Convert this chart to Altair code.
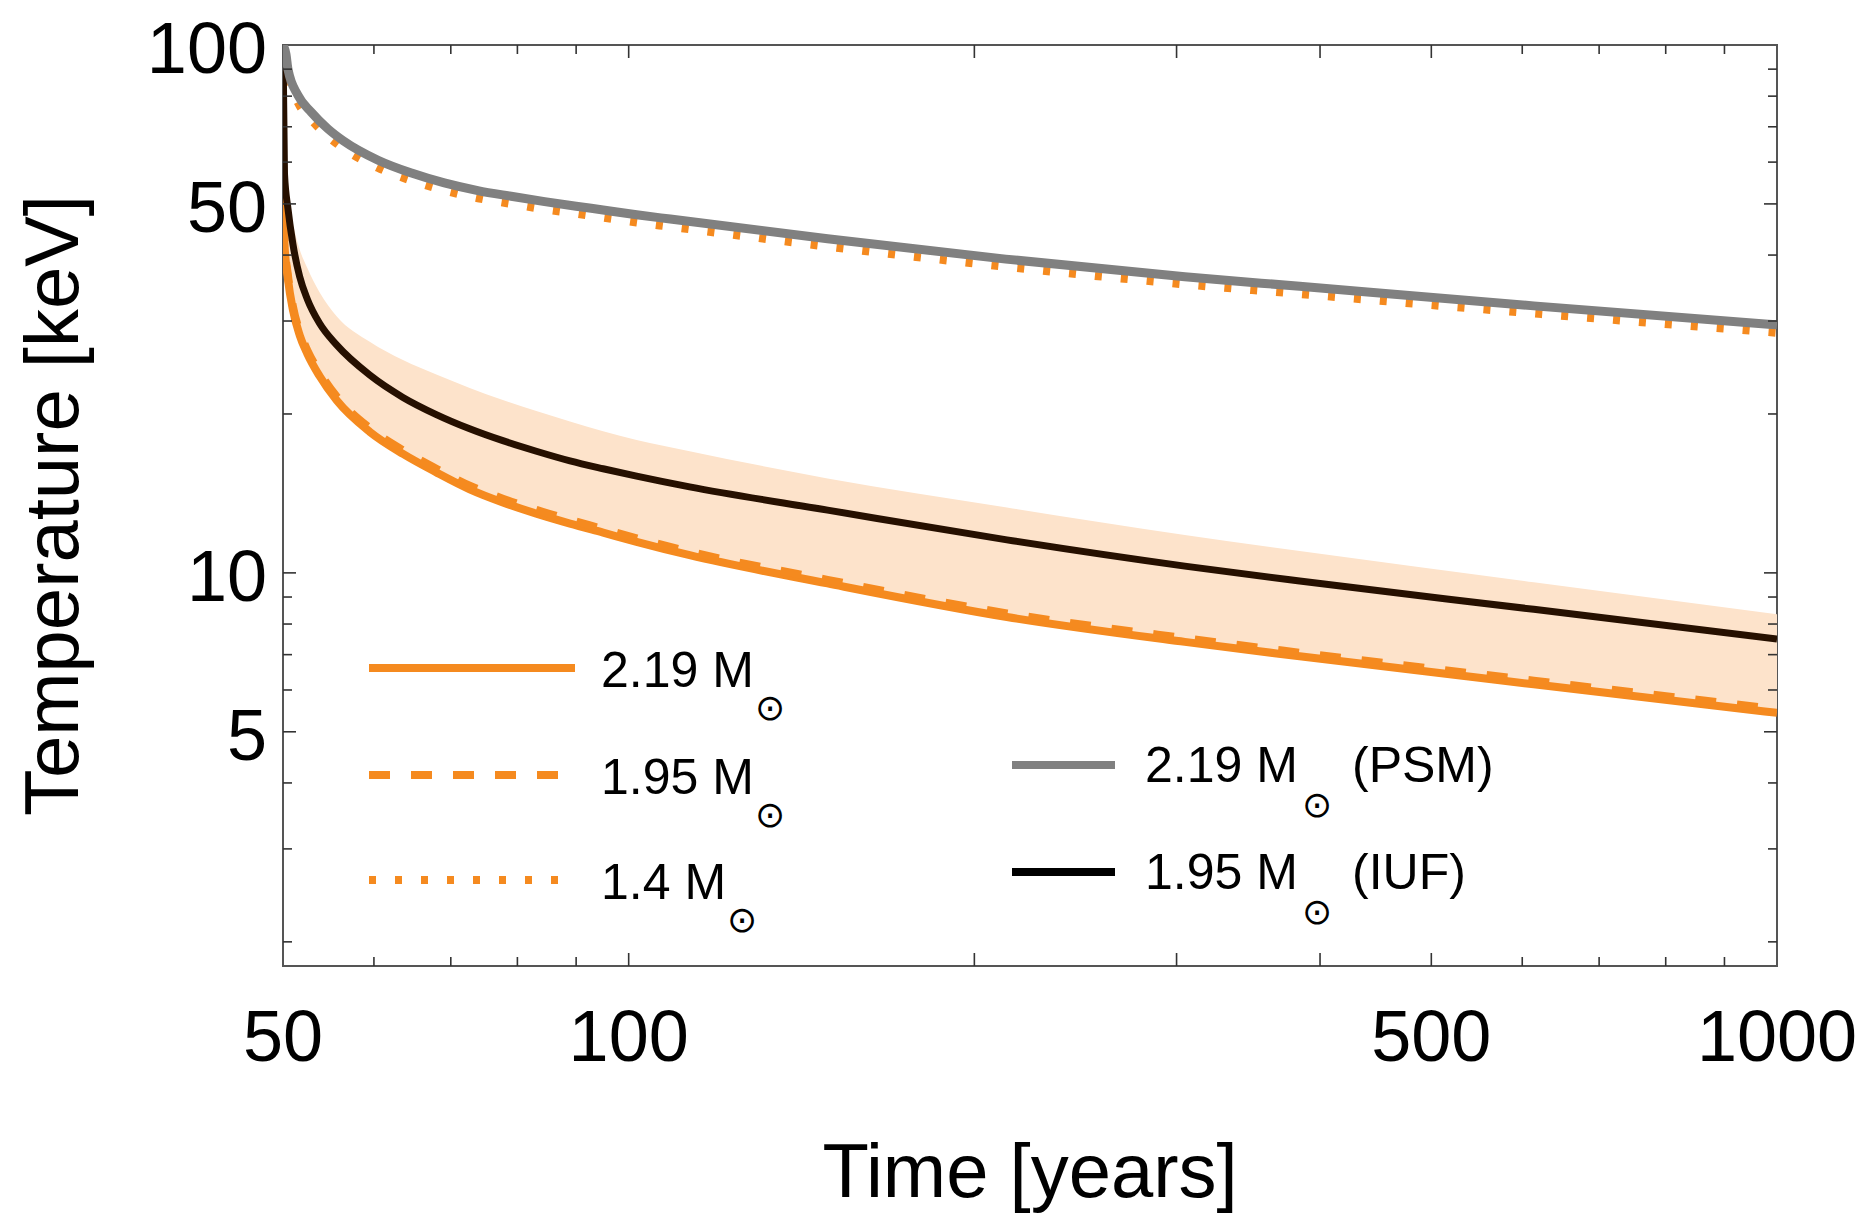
import altair as alt
import pandas as pd

# ---------------- data ----------------
TIME_GRID = [50, 50.15, 50.5, 51.0, 51.7, 52.5, 53.8, 55.7, 59.5, 63.6, 68, 72.7,
             77.7, 83.1, 88.9, 95, 101.6, 113, 149, 213.5, 305, 384, 614, 1000]
TEMP_219 = [55, 42, 36, 31.5, 28.2, 26.0, 23.6, 21.2, 18.5, 16.8, 15.5, 14.4,
            13.6, 12.95, 12.4, 11.92, 11.45, 10.8, 9.55, 8.25, 7.4, 6.95, 6.15, 5.43]
TEMP_195 = [55.9, 42.7, 36.6, 32.0, 28.65, 26.4, 24.0, 21.55, 18.8, 17.07, 15.75, 14.63,
            13.82, 13.16, 12.6, 12.11, 11.63, 10.97, 9.7, 8.38, 7.52, 7.06, 6.25, 5.52]
TEMP_IUF = [100, 57, 49, 42, 36.4, 33.0, 29.7, 27.0, 23.7, 21.5, 19.95, 18.75,
            17.8, 17.0, 16.3, 15.75, 15.25, 14.55, 13.15, 11.55, 10.3, 9.65, 8.53, 7.49]
BAND_UPPER = [70, 58, 52, 46, 41, 37.8, 34.0, 30.6, 27.4, 25.3, 23.75, 22.4,
              21.25, 20.25, 19.35, 18.55, 17.85, 17.0, 15.1, 13.3, 11.8, 11.0, 9.6, 8.35]

TIME_UPPER = [50, 50.3, 50.5, 51.52, 52.92, 54.7, 56.4, 60.5, 64.7, 69.1, 73.9, 79,
              84.5, 90, 95, 101.6, 108.7, 149, 213, 305, 384, 614, 1000]
TEMP_PSM = [100, 96, 90, 80.3, 74.6, 69.4, 65.9, 60.5, 57.2, 54.8, 53.0, 51.7,
            50.5, 49.5, 48.7, 47.7, 46.8, 42.95, 39.3, 36.4, 34.9, 32.05, 29.5]
TEMP_14 = [96.7, 92.8, 87.0, 77.7, 72.1, 67.1, 63.7, 58.5, 55.3, 53.0, 51.25, 50.0,
           48.8, 47.9, 47.1, 46.1, 45.25, 41.5, 38.0, 35.2, 33.75, 31.0, 28.5]

X_LABELS = [50, 100, 500, 1000]
Y_LABELS = [5, 10, 50, 100]
X_MAJOR = [100, 200, 300, 400, 500]
X_MINOR = [60, 70, 80, 90, 600, 700, 800, 900]
Y_MAJOR = [5, 10, 50]
Y_MINOR = [2, 3, 4, 6, 7, 8, 9, 20, 30, 40, 60, 70, 80, 90]

# ---------------- styling ----------------
W, H = 1494, 921
FONT = "Liberation Sans"
ORANGE = "#F58A1F"
BAND = "#FDE3CB"
GRAY = "#808080"
DARK = "#261000"
TICK = "#333333"

XS = alt.Scale(type="log", domain=[50, 1000], nice=False)
YS = alt.Scale(type="log", domain=[1.8, 100], nice=False)

band_df = pd.DataFrame({"t": TIME_GRID, "lo": TEMP_219, "hi": BAND_UPPER})
df219 = pd.DataFrame({"t": TIME_GRID, "T": TEMP_219})
df195 = pd.DataFrame({"t": TIME_GRID, "T": TEMP_195})
dfiuf = pd.DataFrame({"t": TIME_GRID, "T": TEMP_IUF})
dfpsm = pd.DataFrame({"t": TIME_UPPER, "T": TEMP_PSM})
df14 = pd.DataFrame({"t": TIME_UPPER, "T": TEMP_14})

band = alt.Chart(band_df).mark_area(color=BAND, opacity=1, clip=True,
                                    interpolate="monotone").encode(
    x=alt.X("t:Q", scale=XS, axis=None),
    y=alt.Y("hi:Q", scale=YS, axis=None),
    y2="lo:Q",
)


def curve(df, color, width, dash=None):
    props = dict(color=color, strokeWidth=width, clip=True, interpolate="monotone",
                 strokeCap="butt")
    if dash:
        props["strokeDash"] = dash
    return alt.Chart(df).mark_line(**props).encode(
        x=alt.X("t:Q", scale=XS, axis=None),
        y=alt.Y("T:Q", scale=YS, axis=None),
    )


def ticks(values, side, length):
    df = pd.DataFrame({"v": values})
    base = alt.Chart(df).mark_rule(color=TICK, strokeWidth=1.6)
    if side == "bottom":
        return base.encode(x=alt.X("v:Q", scale=XS, axis=None),
                           y=alt.value(H), y2=alt.value(H - length))
    if side == "top":
        return base.encode(x=alt.X("v:Q", scale=XS, axis=None),
                           y=alt.value(0), y2=alt.value(length))
    if side == "left":
        return base.encode(y=alt.Y("v:Q", scale=YS, axis=None),
                           x=alt.value(0), x2=alt.value(length))
    return base.encode(y=alt.Y("v:Q", scale=YS, axis=None),
                       x=alt.value(W), x2=alt.value(W - length))


# tick labels (drawn through the scales)
x_labels = alt.Chart(pd.DataFrame({"v": X_LABELS})).mark_text(
    font=FONT, fontSize=72, align="center", baseline="alphabetic", color="black"
).encode(x=alt.X("v:Q", scale=XS, axis=None), y=alt.value(H + 95),
         text=alt.Text("v:Q", format="d"))
y_labels = alt.Chart(pd.DataFrame({"v": Y_LABELS})).mark_text(
    font=FONT, fontSize=72, align="right", baseline="alphabetic", color="black", dy=28
).encode(y=alt.Y("v:Q", scale=YS, axis=None), x=alt.value(-16),
         text=alt.Text("v:Q", format="d"))

ONE = alt.Data(values=[{"k": 1}])


def leg_line(x1, x2, y, color, dash=None, width=8):
    props = dict(color=color, strokeWidth=width, strokeCap="butt")
    if dash:
        props["strokeDash"] = dash
    return alt.Chart(ONE).mark_rule(**props).encode(
        x=alt.value(x1), x2=alt.value(x2), y=alt.value(y))


def free_text(x, y, s, size=50, font=FONT, baseline="alphabetic", align="left", angle=0):
    return alt.Chart(ONE).mark_text(text=s, fontSize=size, font=font, align=align,
                                    baseline=baseline, color="black", angle=angle).encode(
        x=alt.value(x), y=alt.value(y))


SUN = "\u2299"
layers = [
    band,
    curve(df219, ORANGE, 8),
    curve(df195, ORANGE, 8, [21, 21]),
    curve(df14, ORANGE, 8, [7, 19]),
    curve(dfiuf, DARK, 7),
    curve(dfpsm, GRAY, 9),
]
for side in ["bottom", "top"]:
    layers.append(ticks(X_MAJOR, side, 13))
    layers.append(ticks(X_MINOR, side, 9))
for side in ["left", "right"]:
    layers.append(ticks(Y_MAJOR, side, 13))
    layers.append(ticks(Y_MINOR, side, 9))
layers += [x_labels, y_labels]

# axis titles
layers.append(free_text(W / 2, 1152, "Time [years]", size=76, align="center"))
layers.append(free_text(-205, H / 2, "Temperature [keV]", size=76, align="center",
                        angle=270))

# left legend block
LX1, LX2, LTX = 86, 292, 318
left_rows = [("2.19 M", None, 623, 169), ("1.95 M", [21, 21], 730, 169),
             ("1.4 M", [7, 19], 835, 141)]
for label, dash, y, sun_dx in left_rows:
    layers.append(leg_line(LX1, LX2, y, ORANGE, dash))
    layers.append(free_text(LTX, y + 19, label))
    layers.append(free_text(LTX + sun_dx, y + 41, SUN, size=36, font="DejaVu Sans",
                            baseline="middle", align="center"))

# right legend block
RX1, RX2, RTX = 729, 832, 862
right_rows = [("2.19 M", "(PSM)", GRAY, 720), ("1.95 M", "(IUF)", "black", 827)]
for label, tag, color, y in right_rows:
    layers.append(leg_line(RX1, RX2, y, color, None, 8))
    layers.append(free_text(RTX, y + 17, label))
    layers.append(free_text(RTX + 172, y + 41, SUN, size=36, font="DejaVu Sans",
                            baseline="middle", align="center"))
    layers.append(free_text(RTX + 207, y + 17, tag))

chart = alt.layer(*layers).properties(
    width=W, height=H,
    padding={"left": 283, "top": 45, "right": 97, "bottom": 260},
    autosize=alt.AutoSizeParams(type="none"),
    background="white",
).configure_view(stroke="#555555", strokeWidth=2)

chart.save("out.html", embed_options={"renderer": "svg", "actions": False})
